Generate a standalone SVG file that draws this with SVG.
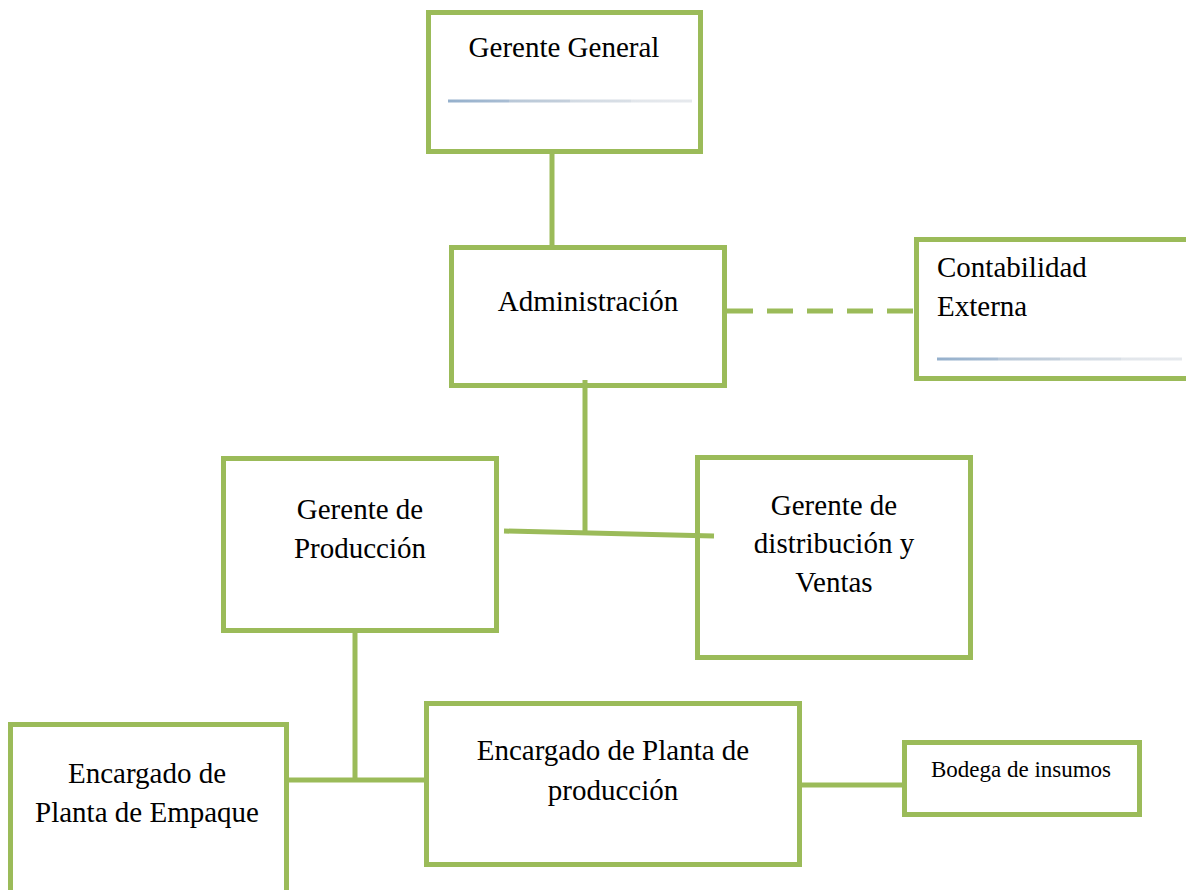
<svg xmlns="http://www.w3.org/2000/svg" width="1186" height="890" viewBox="0 0 1186 890">
<defs>
<linearGradient id="rule" x1="0" x2="1" y1="0" y2="0">
<stop offset="0" stop-color="#95b0cc"/>
<stop offset="0.25" stop-color="#a9bdd3"/>
<stop offset="0.25" stop-color="#b9c8d8"/>
<stop offset="0.5" stop-color="#c4cfdb"/>
<stop offset="0.5" stop-color="#d2dae3"/>
<stop offset="0.75" stop-color="#d9dfe6"/>
<stop offset="0.75" stop-color="#e2e6eb"/>
<stop offset="1" stop-color="#e6e9ed"/>
</linearGradient>
<style>
.box{fill:#fff;stroke:#9bbb59;stroke-width:5}
.ln{stroke:#9bbb59;stroke-width:5;fill:none}
.t{font-family:"Liberation Serif","Times New Roman",serif;font-size:29px;fill:#000}
.c{text-anchor:middle}
</style>
</defs>
<rect width="1186" height="890" fill="#fff"/>
<g id="gerente-general">
<rect class="box" x="428.5" y="12.5" width="272" height="139"/>
<text class="t c" x="564" y="57">Gerente General</text>
<rect x="448" y="99.5" width="244" height="3" fill="url(#rule)"/>
</g>
<g id="administracion">
<rect class="box" x="451.5" y="247.5" width="273" height="138"/>
<text class="t c" x="588" y="311">Administración</text>
</g>
<g id="contabilidad-externa">
<rect class="box" x="916.5" y="239.5" width="280" height="139"/>
<text class="t" x="937" y="277">Contabilidad</text>
<text class="t" x="937" y="316">Externa</text>
<rect x="937" y="357.5" width="245" height="3" fill="url(#rule)"/>
</g>
<g id="gerente-produccion">
<rect class="box" x="223.5" y="458.5" width="273" height="172"/>
<text class="t c" x="360" y="519">Gerente de</text>
<text class="t c" x="360" y="558">Producción</text>
</g>
<g id="gerente-distribucion">
<rect class="box" x="697.5" y="457.5" width="273" height="200"/>
<text class="t c" x="834" y="515">Gerente de</text>
<text class="t c" x="834" y="553">distribución y</text>
<text class="t c" x="834" y="592">Ventas</text>
</g>
<g id="encargado-empaque">
<rect class="box" x="10.5" y="724.5" width="276" height="180"/>
<text class="t c" x="147" y="783">Encargado de</text>
<text class="t c" x="147" y="822">Planta de Empaque</text>
</g>
<g id="encargado-produccion">
<rect class="box" x="426.5" y="703.5" width="373" height="161"/>
<text class="t c" x="613" y="760">Encargado de Planta de</text>
<text class="t c" x="613" y="800">producción</text>
</g>
<g id="bodega-insumos">
<rect class="box" x="904.5" y="742.5" width="235" height="72"/>
<text class="t c" x="1021" y="777" style="font-size:23px">Bodega de insumos</text>
</g>
<g id="connectors">
<line class="ln" x1="552" y1="153" x2="552" y2="245"/>
<line class="ln" x1="727" y1="311" x2="914" y2="311" stroke-dasharray="26,14"/>
<line class="ln" x1="585" y1="380" x2="585" y2="532"/>
<line class="ln" x1="504" y1="531" x2="714" y2="536"/>
<line class="ln" x1="355" y1="632" x2="355" y2="780"/>
<line class="ln" x1="289" y1="780" x2="424" y2="780"/>
<line class="ln" x1="802" y1="785" x2="902" y2="785"/>
</g>
</svg>
